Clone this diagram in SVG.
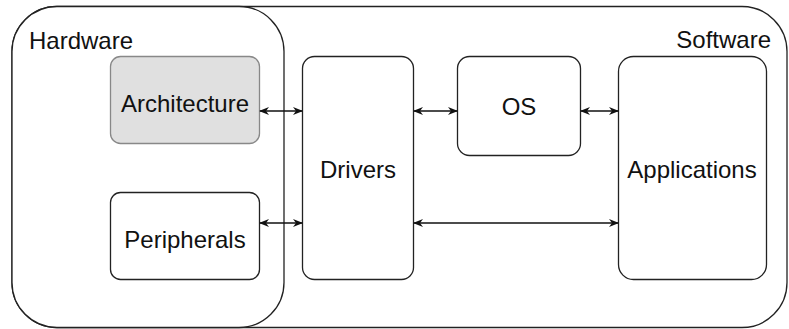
<svg xmlns="http://www.w3.org/2000/svg" width="789" height="329" viewBox="0 0 789 329">
<defs>
<style>
.box{fill:#fff;stroke:#222;stroke-width:1.3}
.grey{fill:#e0e0e0;stroke:#888;stroke-width:1.3}
.lbl{font-family:"Liberation Sans",Arial,sans-serif;font-size:24px;fill:#111}
.c{text-anchor:middle}
.conn{stroke:#111;stroke-width:1.3;fill:none;marker-start:url(#ah);marker-end:url(#ah)}
</style>
<marker id="ah" viewBox="0 0 10 10" refX="9" refY="5" markerWidth="10" markerHeight="10" markerUnits="userSpaceOnUse" orient="auto-start-reverse">
<path d="M0,1 L10,5 L0,9 L3,5 Z" fill="#111"/>
</marker>
</defs>
<g id="software">
<rect class="box" x="12" y="6.5" width="775" height="321" rx="45" ry="45"/>
<text class="lbl" x="771" y="48" text-anchor="end">Software</text>
</g>
<g id="hardware">
<rect class="box" x="12" y="6.5" width="272" height="321" rx="45" ry="45"/>
<text class="lbl" x="29" y="49">Hardware</text>
</g>
<g id="architecture">
<rect class="grey" x="110.5" y="56.5" width="149" height="87" rx="10" ry="10"/>
<text class="lbl c" x="185" y="112">Architecture</text>
</g>
<g id="peripherals">
<rect class="box" x="110.5" y="192.5" width="149" height="87" rx="10" ry="10"/>
<text class="lbl c" x="185" y="248">Peripherals</text>
</g>
<g id="drivers">
<rect class="box" x="302.5" y="56.5" width="111" height="223" rx="12" ry="12"/>
<text class="lbl c" x="358" y="178">Drivers</text>
</g>
<g id="os">
<rect class="box" x="457.5" y="56.5" width="123" height="99" rx="12" ry="12"/>
<text class="lbl c" x="519" y="115">OS</text>
</g>
<g id="applications">
<rect class="box" x="618.5" y="56.5" width="148" height="223" rx="15" ry="15"/>
<text class="lbl c" x="692" y="178">Applications</text>
</g>
<g id="connectors">
<line class="conn" x1="260" y1="111" x2="302" y2="111"/>
<line class="conn" x1="260" y1="223" x2="302" y2="223"/>
<line class="conn" x1="414" y1="111" x2="457" y2="111"/>
<line class="conn" x1="581" y1="111" x2="618" y2="111"/>
<line class="conn" x1="414" y1="223" x2="618" y2="223"/>
</g>
</svg>
